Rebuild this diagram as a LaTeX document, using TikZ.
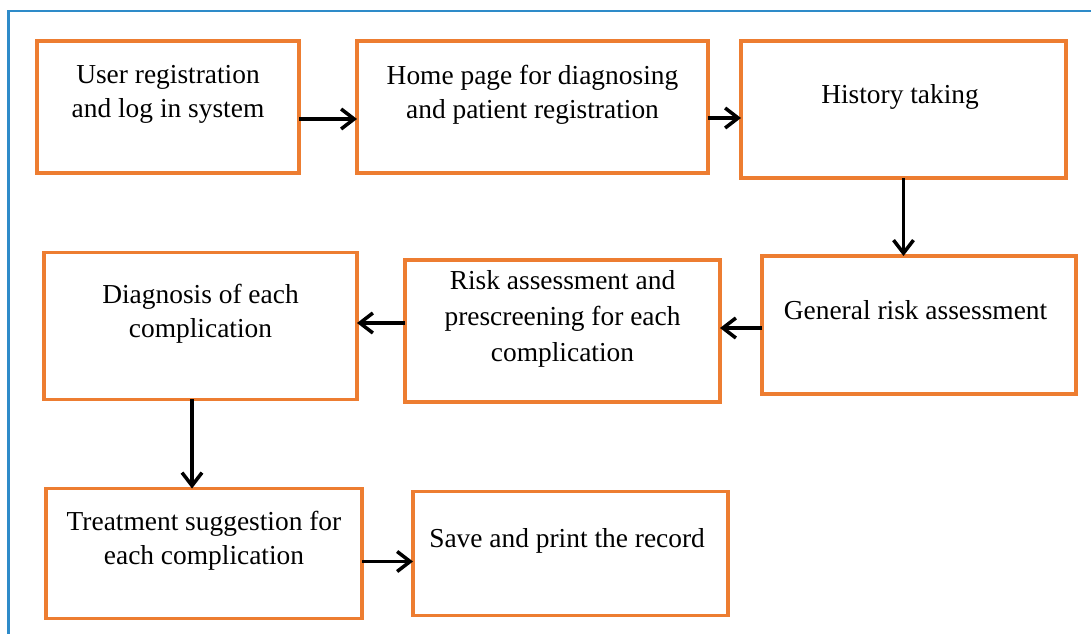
\documentclass[tikz,border=0pt]{standalone}
\usepackage{fontspec}
\setmainfont{Liberation Serif}
\usepackage{xcolor}
\usepackage{tikz}
\usetikzlibrary{arrows.meta,positioning}
\definecolor{boxorange}{HTML}{ED7D31}
\definecolor{frameblue}{HTML}{2E8BC9}
\tikzset{
  flowbox/.style={
    draw=boxorange,
    line width=2pt,
    fill=white,
    align=center,
    font=\fontsize{15.6}{19.4}\selectfont,
    text depth=0.61cm,
    inner sep=2pt,
    outer sep=0pt
  },
  flowarrow/.style={
    -{Straight Barb[length=2.6mm,width=4mm]},
    line width=2pt,
    draw=black
  }
}

\begin{document}
\begin{tikzpicture}
    \useasboundingbox (0,0) rectangle (21.82,-12.68);
    % page frame
    \draw[frameblue, line width=1.5pt] (0.17,-13) -- (0.17,-0.22) -- (22.2,-0.22);

    % first row
    \node[flowbox, minimum width=5.24cm, minimum height=2.64cm] (user) at (3.36,-2.14) {
        User registration\\and log in system
    };
    \node[flowbox, minimum width=7.02cm, minimum height=2.64cm, right=1.16cm of user] (home) {
        Home page for diagnosing\\and patient registration
    };
    \node[flowbox, minimum width=6.5cm, minimum height=2.74cm, right=0.66cm of home, yshift=-0.05cm] (history) {
        History taking
    };

    % second row
    \node[flowbox, minimum width=6.28cm, minimum height=2.76cm, below=1.56cm of history, xshift=0.31cm] (general) {
        General risk assessment
    };
    \node[flowbox, minimum width=6.3cm, minimum height=2.84cm, font=\fontsize{15.6}{20.6}\selectfont,
          left=0.84cm of general, yshift=-0.12cm] (risk) {
        Risk assessment and\\prescreening for each\\complication
    };
    \node[flowbox, minimum width=6.26cm, minimum height=2.94cm, left=0.96cm of risk, yshift=0.1cm] (diag) {
        Diagnosis of each\\complication
    };

    % third row
    \node[flowbox, minimum width=6.32cm, minimum height=2.6cm, below=1.78cm of diag, xshift=0.07cm] (treat) {
        Treatment suggestion for\\each complication
    };
    \node[flowbox, minimum width=6.3cm, minimum height=2.48cm, right=1.02cm of treat] (save) {
        Save and print the record
    };

    \draw[flowarrow] ([yshift=-0.24cm]user.east) -- ([yshift=-0.24cm]home.west);
    \draw[flowarrow] ([yshift=-0.22cm]home.east) -- ([yshift=-0.22cm]home.east -| history.west);
    \draw[flowarrow] (history.south) -- (history.south |- general.north);
    \draw[flowarrow] ([yshift=-0.06cm]general.west) -- ([yshift=-0.06cm]general.west -| risk.east);
    \draw[flowarrow] ([yshift=0.16cm]risk.west) -- ([yshift=0.16cm]risk.west -| diag.east);
    \draw[flowarrow] ([xshift=-0.17cm]diag.south) -- ([xshift=-0.17cm]diag.south |- treat.north);
    \draw[flowarrow] ([yshift=-0.16cm]treat.east) -- ([yshift=-0.16cm]treat.east -| save.west);
\end{tikzpicture}
\end{document}
